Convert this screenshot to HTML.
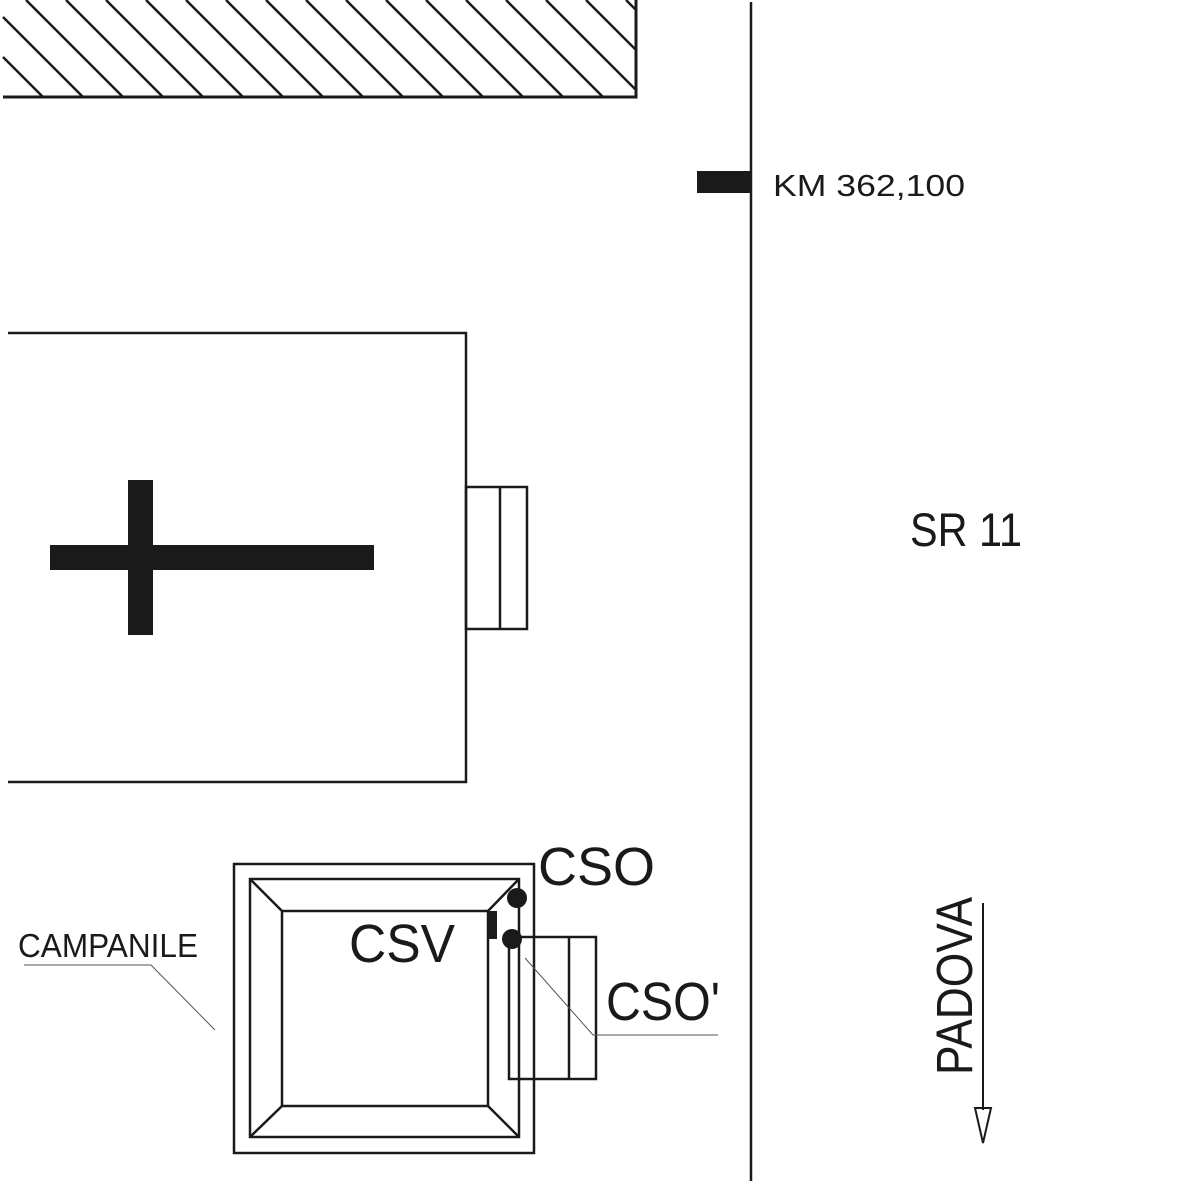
<!DOCTYPE html>
<html><head><meta charset="utf-8"><style>
html,body{margin:0;padding:0;background:#fff;}
svg{display:block;}
text{font-family:"Liberation Sans","DejaVu Sans",sans-serif;fill:#1a1a1a;}
</style></head><body>
<svg width="1177" height="1184" viewBox="0 0 1177 1184" xmlns="http://www.w3.org/2000/svg">
<g stroke="#1a1a1a" stroke-width="2.5" fill="none">
<line x1="3" y1="57" x2="43" y2="97"/>
<line x1="3" y1="17" x2="83" y2="97"/>
<line x1="26" y1="0" x2="123" y2="97"/>
<line x1="66" y1="0" x2="163" y2="97"/>
<line x1="106" y1="0" x2="203" y2="97"/>
<line x1="146" y1="0" x2="243" y2="97"/>
<line x1="186" y1="0" x2="283" y2="97"/>
<line x1="226" y1="0" x2="323" y2="97"/>
<line x1="266" y1="0" x2="363" y2="97"/>
<line x1="306" y1="0" x2="403" y2="97"/>
<line x1="346" y1="0" x2="443" y2="97"/>
<line x1="386" y1="0" x2="483" y2="97"/>
<line x1="426" y1="0" x2="523" y2="97"/>
<line x1="466" y1="0" x2="563" y2="97"/>
<line x1="506" y1="0" x2="603" y2="97"/>
<line x1="546" y1="0" x2="636" y2="90"/>
<line x1="586" y1="0" x2="636" y2="50"/>
<line x1="626" y1="0" x2="636" y2="10"/>
<polyline points="3,97 636,97 636,0" stroke-width="3"/>
<!-- road -->
<line x1="751" y1="2" x2="751" y2="1181" stroke-width="2.5"/>
<!-- church -->
<polyline points="8,333 466,333 466,782 8,782" stroke-width="2.5"/>
<rect x="466" y="487" width="61" height="142"/>
<line x1="500" y1="487" x2="500" y2="629"/>
<!-- campanile -->
<rect x="234" y="864" width="300" height="289"/>
<rect x="250" y="879" width="269" height="258"/>
<rect x="282" y="911" width="206" height="195"/>
<line x1="250" y1="879" x2="282" y2="911"/>
<line x1="519" y1="879" x2="488" y2="911"/>
<line x1="250" y1="1137" x2="282" y2="1106"/>
<line x1="519" y1="1137" x2="488" y2="1106"/>
<rect x="509" y="937" width="87" height="142"/>
<line x1="569" y1="937" x2="569" y2="1079"/>
<polyline points="525,958 593,1035 718,1035" stroke-width="1" stroke="#555"/>
<polyline points="24,965 151,965 215,1030" stroke-width="1" stroke="#555"/>
<line x1="983" y1="903" x2="983" y2="1110" stroke-width="2"/>
<polygon points="975,1108 991,1108 983,1143" stroke-width="2"/>
</g>
<rect x="697" y="171" width="54" height="22" fill="#1a1a1a"/>
<rect x="50" y="545" width="324" height="25" fill="#1a1a1a"/>
<rect x="128" y="480" width="25" height="155" fill="#1a1a1a"/>
<rect x="488" y="911" width="9" height="28" fill="#1a1a1a"/>
<circle cx="517" cy="898" r="10" fill="#1a1a1a"/>
<circle cx="512" cy="939" r="10" fill="#1a1a1a"/>
<text x="773" y="196" font-size="31" textLength="192" lengthAdjust="spacingAndGlyphs">KM 362,100</text>
<text x="910" y="546" font-size="47" textLength="112" lengthAdjust="spacingAndGlyphs">SR 11</text>
<text x="538" y="885" font-size="54" textLength="117" lengthAdjust="spacingAndGlyphs">CSO</text>
<text x="349" y="962" font-size="54" textLength="106" lengthAdjust="spacingAndGlyphs">CSV</text>
<text x="606" y="1020" font-size="54" textLength="114" lengthAdjust="spacingAndGlyphs">CSO'</text>
<text x="18" y="957" font-size="33" textLength="180" lengthAdjust="spacingAndGlyphs">CAMPANILE</text>
<text transform="translate(972,1075) rotate(-90)" x="0" y="0" font-size="51" textLength="178" lengthAdjust="spacingAndGlyphs">PADOVA</text>
</svg>
</body></html>
